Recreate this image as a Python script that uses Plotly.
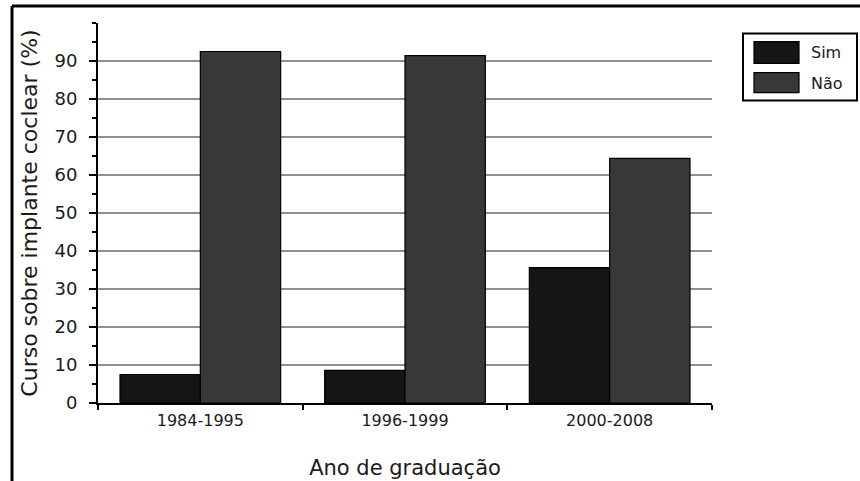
import plotly.graph_objects as go

categories = ["1984-1995", "1996-1999", "2000-2008"]
series_names = ["Sim", "Não"]
sim_values = [7.5, 8.6, 35.6]
nao_values = [92.5, 91.4, 64.4]
y_tick_values = [0, 10, 20, 30, 40, 50, 60, 70, 80, 90]
y_title = "Curso sobre implante coclear (%)"
x_title = "Ano de graduação"

colors = ["#151515", "#383838"]
FONT = "DejaVu Sans"
TXT = "#1a1a1a"

fig = go.Figure()
for name, vals, col in zip(series_names, [sim_values, nao_values], colors):
    fig.add_trace(go.Bar(
        x=categories, y=vals, name=name,
        marker=dict(color=col, line=dict(color="#000000", width=1.2)),
        showlegend=False, hoverinfo="skip",
    ))

W, H = 860, 481
L, R, T, B = 98, 148, 23, 78
pw = W - L - R
ph = H - T - B

def px(x):
    return (x - L) / pw

def py(y):
    return (H - B - y) / ph

shapes = []
# outer frame (top and left)
shapes.append(dict(type="line", xref="paper", yref="paper",
                   x0=px(12), x1=px(862), y0=py(6), y1=py(6),
                   line=dict(color="black", width=3)))
shapes.append(dict(type="line", xref="paper", yref="paper",
                   x0=px(12), x1=px(12), y0=py(6), y1=py(485),
                   line=dict(color="black", width=3)))
# legend box
shapes.append(dict(type="rect", xref="paper", yref="paper",
                   x0=px(743), x1=px(857), y0=py(33.5), y1=py(100.5),
                   line=dict(color="black", width=2), fillcolor="white"))
swatch_y = [(41.7, 63.3), (72.7, 92.7)]
text_y = [52.5, 83]
annotations = []
for name, col, (ya, yb), ty in zip(series_names, colors, swatch_y, text_y):
    shapes.append(dict(type="rect", xref="paper", yref="paper",
                       x0=px(754), x1=px(799), y0=py(ya), y1=py(yb),
                       line=dict(color="black", width=1.2), fillcolor=col))
    annotations.append(dict(xref="paper", yref="paper", x=px(809), y=py(ty),
                            text=name, showarrow=False, xanchor="left",
                            yanchor="middle",
                            font=dict(family=FONT, size=16, color=TXT)))

fig.update_layout(
    width=W, height=H,
    margin=dict(l=L, r=R, t=T, b=B, autoexpand=False),
    paper_bgcolor="white", plot_bgcolor="white",
    barmode="group", bargap=0.215, bargroupgap=0,
    showlegend=False,
    shapes=shapes, annotations=annotations,
    font=dict(family=FONT, color=TXT),
)
fig.update_xaxes(
    showline=True, linecolor="black", linewidth=2,
    ticks="outside", tickson="boundaries", ticklen=5, tickwidth=1.5,
    tickcolor="black", showgrid=False,
    tickfont=dict(family=FONT, size=16, color=TXT),
    ticklabelstandoff=2,
    title=dict(text=x_title, font=dict(family=FONT, size=21, color=TXT),
               standoff=31),
    automargin=False,
)
fig.update_yaxes(
    range=[0, 100], tickvals=y_tick_values,
    showline=True, linecolor="black", linewidth=2,
    ticks="outside", ticklen=7, tickwidth=1.5, tickcolor="black",
    minor=dict(dtick=5, ticks="outside", ticklen=4, tickwidth=1.5,
               tickcolor="black", showgrid=False),
    showgrid=True, gridcolor="#8f8f8f", gridwidth=2,
    zeroline=False,
    tickfont=dict(family=FONT, size=18, color=TXT),
    ticklabelstandoff=8,
    title=dict(text=y_title, font=dict(family=FONT, size=22, color=TXT),
               standoff=11),
    automargin=False,
)

fig.write_html("out.html", config={"displayModeBar": False},
               post_script="document.body.style.margin='0px';document.body.style.overflow='hidden';")
